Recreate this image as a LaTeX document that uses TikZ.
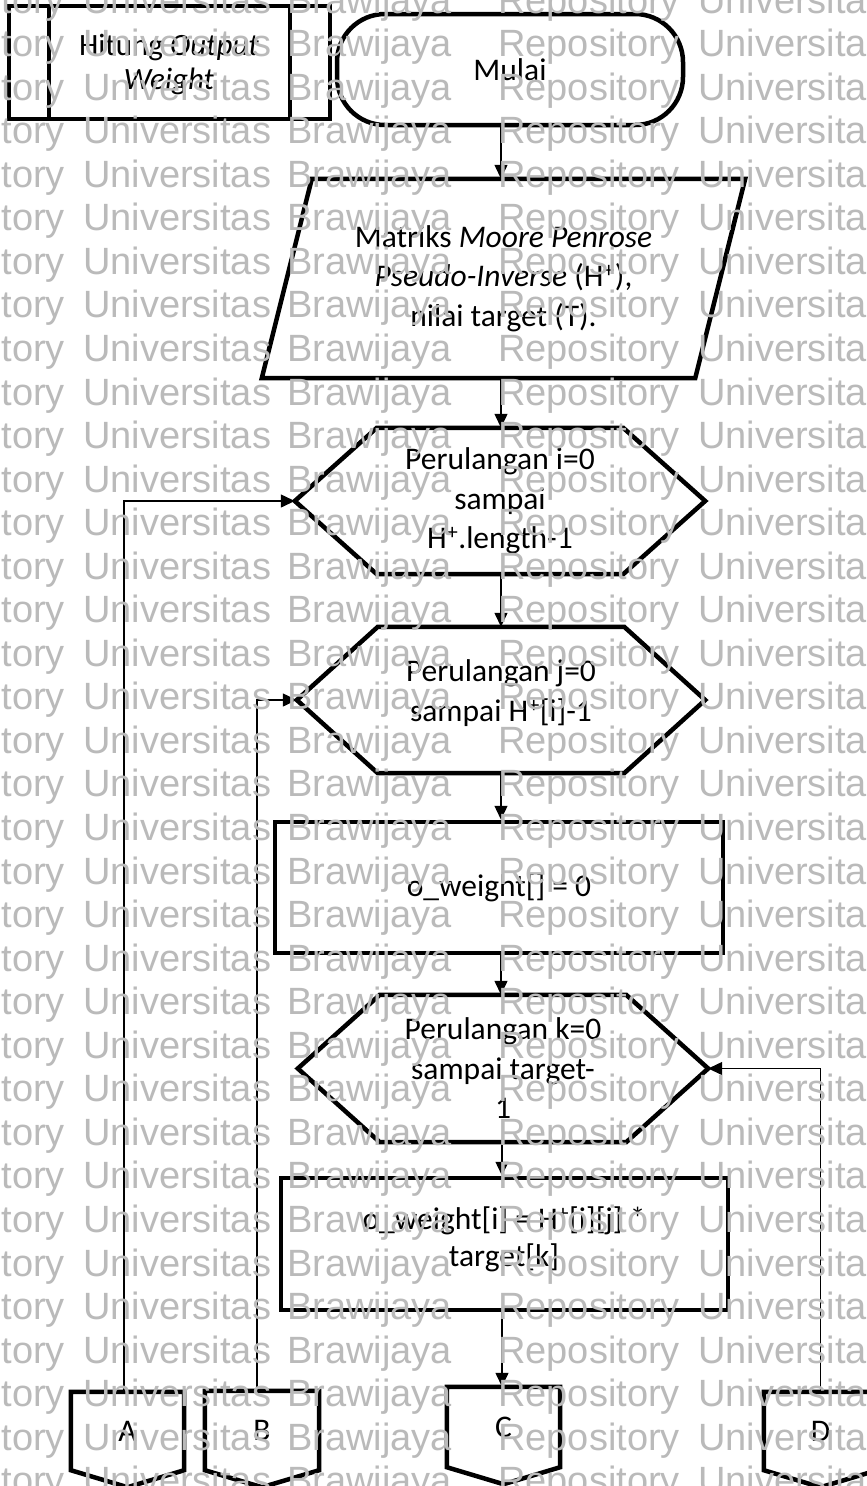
\documentclass[tikz,border=0pt]{standalone}
\usepackage{fontspec}
\setmainfont{Carlito}
\newfontfamily\wmfont{Liberation Sans}
\usetikzlibrary{arrows.meta,calc}

\tikzset{
  border/.style={line width=4.5pt, line join=miter, draw=black},
  conn/.style={line width=1.3pt, draw=black},
  arr/.style={conn, -{Triangle[width=13pt,length=14pt]}},
  box/.style={draw=none, inner sep=0pt, align=center, font=\fontsize{31.5}{39.5}\selectfont},
  wm/.style={anchor=base west, inner sep=0pt, text=black!27, font=\wmfont\fontsize{38}{38}\selectfont},
}

% hexagonal loop symbol around a named node; #2 = depth of the slanted ends
\newcommand\drawhex[2]{%
  \draw[border] (#1.west) -- ([xshift=#2]#1.north west) -- ([xshift=-#2]#1.north east)
    -- (#1.east) -- ([xshift=-#2]#1.south east) -- ([xshift=#2]#1.south west) -- cycle;}
% off-page connector (box with pointed bottom) around a named node
\newcommand\drawoffpage[1]{%
  \draw[border] (#1.north west) -- (#1.north east) -- (#1.south east)
    -- ([yshift=-17pt]#1.south) -- (#1.south west) -- cycle;}

\begin{document}
\begin{tikzpicture}[x=1pt,y=-1pt]
\useasboundingbox (0,0) rectangle (867,1486);
\clip (0,0) rectangle (867,1486);
\fill[white] (0,0) rectangle (867,1486);

% predefined process: Hitung Output Weight
\node[box, minimum width=321pt, minimum height=113pt] (proc) at (169.5,62.5) {};
\draw[border] (proc.south west) rectangle (proc.north east);
\draw[border] ([xshift=40pt]proc.south west) -- ([xshift=40pt]proc.north west);
\draw[border] ([xshift=-40pt]proc.south east) -- ([xshift=-40pt]proc.north east);
\node[box, font=\fontsize{31}{34}\selectfont] (proctext) at (169,64) {Hitung \textit{Output}\\\textit{Weight}};

% terminator
\node[box, border, minimum width=346pt, minimum height=111pt, rounded corners=48pt] (start) at (510,69.5) {Mulai};

% input
\node[box, minimum width=483pt, minimum height=199pt] (input) at (503.5,278.5)
  {Matriks \textit{Moore Penrose}\\\textit{Pseudo-Inverse} (H\textsuperscript{+}),\\nilai target (T).};
\draw[border] ([xshift=50pt]input.north west) -- (input.north east)
  -- ([xshift=-50pt]input.south east) -- (input.south west) -- cycle;

% loop i
\node[box, minimum width=410pt, minimum height=146pt] (loopi) at (500,501)
  {Perulangan i=0\\sampai\\H\textsuperscript{+}.length-1};
\drawhex{loopi}{82pt}

% loop j
\node[box, minimum width=408pt, minimum height=146pt] (loopj) at (501,700) {};
\drawhex{loopj}{81pt}
\node[box] (loopjtext) at (501,693) {Perulangan j=0\\sampai H\textsuperscript{+}[i]-1};

% initialisation
\node[box, border, minimum width=448pt, minimum height=131pt] (init) at (499,887.5) {o\_weight[] = 0};

% loop k
\node[box, minimum width=410pt, minimum height=147pt] (loopk) at (503,1068.5)
  {Perulangan k=0\\sampai target-\\1};
\drawhex{loopk}{82pt}

% accumulation
\node[box, border, minimum width=447pt, minimum height=132pt] (accum) at (504.5,1244) {};
\node[box, font=\fontsize{31.5}{37}\selectfont] (accumtext) at (504,1239)
  {o\_weight[i] = H\textsuperscript{+}[i][j] *\\target[k]};

% off-page connectors
\node[box, minimum width=113pt, minimum height=78pt] (A) at (127.5,1431) {A};
\node[box, minimum width=114pt, minimum height=79pt] (B) at (262,1430.5) {B};
\node[box, minimum width=113pt, minimum height=80pt] (C) at (503.5,1427) {C};
\node[box, minimum width=113pt, minimum height=78pt] (D) at (820.5,1431) {D};
\drawoffpage{A}
\drawoffpage{B}
\drawoffpage{C}
\drawoffpage{D}

% main flow
\coordinate (axis) at (501,0);
\draw[arr] (start.south -| axis) -- (input.north -| axis);
\draw[arr] (input.south -| axis) -- (loopi.north -| axis);
\draw[arr] (loopi.south -| axis) -- (loopj.north -| axis);
\draw[arr] (loopj.south -| axis) -- (init.north -| axis);
\draw[arr] (init.south -| axis) -- (loopk.north -| axis);
\draw[arr] ([xshift=1pt]loopk.south -| axis) -- ([xshift=1pt]accum.north -| axis);
\draw[arr] ([xshift=1pt]accum.south -| axis) -- ([xshift=1pt]C.north -| axis);

% returns to the loops
\draw[arr] ([xshift=-3.5pt]A.north) |- (loopi.west);
\draw[arr] ([xshift=-5pt]B.north) |- (loopj.west);
\draw[arr] (D.north) |- (loopk.east);

% repository watermark
\foreach \k in {-1,...,33} {
  \pgfmathsetmacro\yb{43+43.55*\k+13.6}
  \foreach \x/\w in {-117/Repository, 83/Universitas, 287/Brawijaya, 498/Repository, 698/Universitas} {
    \node[wm] (wm-\k-\w-\x) at (\x,\yb) {\w};
  }
}
\end{tikzpicture}
\end{document}
